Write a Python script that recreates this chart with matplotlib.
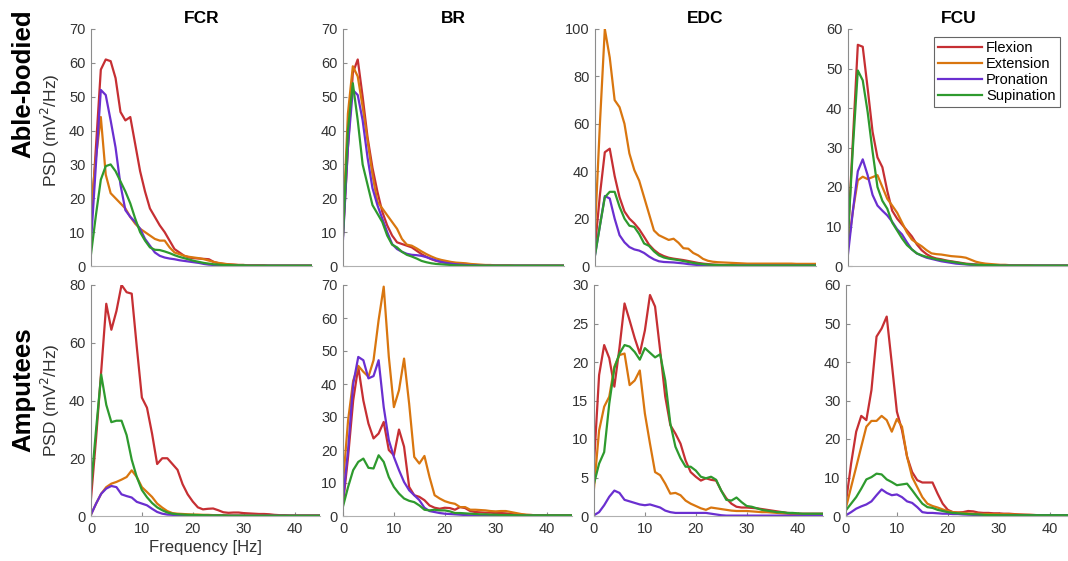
import matplotlib
matplotlib.use("Agg")
import matplotlib.pyplot as plt
import numpy as np

plt.rcParams['font.family'] = ['Liberation Sans', 'DejaVu Sans']

W, H = 1068, 561

muscles = ["FCR", "BR", "EDC", "FCU"]
movements = ["Flexion", "Extension", "Pronation", "Supination"]
colors = ["#C62F33", "#D9760F", "#6A2FD0", "#2E9A2E"]
row_names = ["Able-bodied", "Amputees"]

# PSD values, 1 Hz bins starting at 0 Hz
able_fcr = [
    [12, 35, 58, 61, 60.5, 55.5, 45.5, 43, 44, 36, 28, 22, 17, 14.5, 12, 10, 7.5, 5, 4, 3, 2.5, 2.3, 2.2, 2.1, 2, 1.2, 0.8, 0.6, 0.5, 0.4, 0.3, 0.3, 0.2, 0.2, 0.2, 0.2, 0.1, 0.1, 0.1, 0.1, 0.1, 0.1, 0.1, 0.1, 0.1, 0.1],
    [17, 32, 44, 27, 21.5, 20, 18.5, 17, 14.5, 12.5, 11, 10, 9, 8, 7.5, 7.5, 5.5, 4, 3.5, 3, 2.7, 2.5, 2.3, 2, 1.6, 1.2, 0.9, 0.7, 0.5, 0.4, 0.3, 0.3, 0.2, 0.2, 0.2, 0.2, 0.1, 0.1, 0.1, 0.1, 0.1, 0.1, 0.1, 0.1, 0.1, 0.1],
    [7, 30, 52, 50.5, 43, 35, 24, 16.5, 14.5, 13, 11, 8, 6, 4, 3, 2.5, 2.2, 2, 1.7, 1.5, 1.3, 1.1, 0.9, 0.6, 0.4, 0.3, 0.2, 0.2, 0.1, 0.1, 0.1, 0.1, 0.1, 0.1, 0.1, 0.1, 0.1, 0.1, 0.1, 0.1, 0.1, 0.1, 0.1, 0.1, 0.1, 0.1],
    [3.5, 15, 25.5, 29.5, 30, 28, 25, 22, 18.5, 14, 10, 7.5, 5.5, 4.8, 4.7, 4.3, 3.8, 3.2, 2.7, 2.3, 1.9, 1.5, 1.2, 0.9, 0.7, 0.5, 0.4, 0.3, 0.3, 0.2, 0.2, 0.2, 0.1, 0.1, 0.1, 0.1, 0.1, 0.1, 0.1, 0.1, 0.1, 0.1, 0.1, 0.1, 0.1, 0.1],
]
able_br = [
    [9, 35, 57, 61, 50, 38, 29, 22, 16, 12, 9, 7, 6.5, 6, 5.5, 4.5, 3.5, 2.7, 2, 1.5, 1.2, 1, 0.8, 0.6, 0.5, 0.4, 0.3, 0.3, 0.2, 0.2, 0.2, 0.1, 0.1, 0.1, 0.1, 0.1, 0.1, 0.1, 0.1, 0.1, 0.1, 0.1, 0.1, 0.1, 0.1, 0.1],
    [12, 45, 59, 56, 47, 37, 27, 19, 17, 15, 13, 11, 8, 6.3, 6, 5.2, 4.3, 3.5, 2.8, 2.2, 1.8, 1.5, 1.2, 1, 0.9, 0.8, 0.6, 0.5, 0.4, 0.3, 0.3, 0.2, 0.2, 0.2, 0.2, 0.1, 0.1, 0.1, 0.1, 0.1, 0.1, 0.1, 0.1, 0.1, 0.1, 0.1],
    [8, 35, 52, 50.5, 43, 32, 23, 18, 14, 10, 6.5, 5, 4.2, 3.6, 3.3, 3.2, 3, 2.6, 2.1, 1.6, 1.2, 0.9, 0.7, 0.5, 0.4, 0.3, 0.2, 0.2, 0.1, 0.1, 0.1, 0.1, 0.1, 0.1, 0.1, 0.1, 0.1, 0.1, 0.1, 0.1, 0.1, 0.1, 0.1, 0.1, 0.1, 0.1],
    [9, 40, 54, 43, 30, 24, 18, 15.5, 13, 9, 6.3, 5.5, 4.2, 3.3, 2.8, 2.2, 1.5, 1.1, 0.8, 0.6, 0.5, 0.4, 0.3, 0.2, 0.2, 0.1, 0.1, 0.1, 0.1, 0.1, 0.1, 0.1, 0.1, 0.1, 0.1, 0.1, 0.1, 0.1, 0.1, 0.1, 0.1, 0.1, 0.1, 0.1, 0.1, 0.1],
]
able_edc = [
    [8, 30, 48, 49.5, 38, 29, 23, 20, 18, 15.5, 12.3, 9, 6.8, 5.2, 4.2, 3.5, 3.1, 2.8, 2.5, 2.1, 1.7, 1.3, 1, 0.8, 0.6, 0.5, 0.4, 0.3, 0.3, 0.2, 0.2, 0.2, 0.2, 0.2, 0.2, 0.2, 0.2, 0.2, 0.2, 0.2, 0.2, 0.2, 0.2, 0.2, 0.2, 0.2],
    [15, 60, 100, 88, 70, 67, 60, 47.5, 40.5, 36, 29, 22, 15, 13, 12, 11, 11.5, 9.8, 7.5, 7.3, 5.5, 4.5, 3, 2.2, 1.8, 1.6, 1.5, 1.4, 1.3, 1.2, 1.1, 1, 1, 1, 1, 1, 1, 1, 1, 1, 1, 0.9, 0.9, 0.9, 0.9, 0.9],
    [4.5, 17, 29.5, 28.5, 20, 13, 10, 8, 7, 6.5, 5.5, 4, 2.8, 2, 1.7, 1.6, 1.5, 1.3, 1.1, 0.8, 0.6, 0.4, 0.3, 0.3, 0.2, 0.2, 0.2, 0.2, 0.2, 0.2, 0.2, 0.2, 0.2, 0.2, 0.2, 0.2, 0.2, 0.2, 0.2, 0.2, 0.2, 0.2, 0.2, 0.2, 0.2, 0.2],
    [4.5, 17, 29, 31.3, 31.3, 25, 20, 17, 16.5, 13.5, 9.5, 8.5, 6.2, 4.5, 3.6, 3.1, 2.8, 2.5, 2.1, 1.7, 1.3, 1, 0.8, 0.6, 0.5, 0.4, 0.3, 0.3, 0.3, 0.2, 0.2, 0.2, 0.2, 0.2, 0.2, 0.2, 0.2, 0.2, 0.2, 0.2, 0.2, 0.2, 0.2, 0.2, 0.2, 0.2],
]
able_fcu = [
    [7.5, 32, 56, 55.5, 45, 34, 27.5, 25, 19, 14, 12, 10.5, 9, 7.5, 5.5, 4, 3, 2.3, 1.9, 1.7, 1.4, 1.2, 1, 0.8, 0.6, 0.5, 0.4, 0.3, 0.3, 0.2, 0.2, 0.2, 0.2, 0.2, 0.1, 0.1, 0.1, 0.1, 0.1, 0.1, 0.1, 0.1, 0.1, 0.1, 0.1, 0.1],
    [4.8, 14, 21.7, 22.6, 22, 22.5, 23, 20, 17, 15.3, 13.5, 11, 8.5, 6.7, 5.8, 5, 4, 3.2, 3, 2.9, 2.7, 2.5, 2.4, 2.3, 2.1, 1.6, 1.1, 0.8, 0.6, 0.5, 0.4, 0.3, 0.3, 0.2, 0.2, 0.2, 0.2, 0.2, 0.1, 0.1, 0.1, 0.1, 0.1, 0.1, 0.1, 0.1],
    [3, 14, 24, 27, 23, 18, 15.3, 14, 12.8, 11.2, 9.3, 8, 6, 4.2, 3.2, 2.6, 2.1, 1.8, 1.5, 1.2, 1, 0.8, 0.6, 0.5, 0.4, 0.3, 0.3, 0.2, 0.2, 0.2, 0.1, 0.1, 0.1, 0.1, 0.1, 0.1, 0.1, 0.1, 0.1, 0.1, 0.1, 0.1, 0.1, 0.1, 0.1, 0.1],
    [7.5, 30, 49.5, 47, 39, 29, 20, 16.5, 14.5, 11, 9, 7, 5.3, 4.2, 3.2, 2.7, 2.3, 2, 1.7, 1.5, 1.3, 1.1, 0.9, 0.7, 0.5, 0.4, 0.3, 0.3, 0.2, 0.2, 0.2, 0.1, 0.1, 0.1, 0.1, 0.1, 0.1, 0.1, 0.1, 0.1, 0.1, 0.1, 0.1, 0.1, 0.1, 0.1],
]

amp_fcr = [
    [6, 27, 50, 73.5, 64.5, 71, 80, 77.5, 77, 58.5, 41, 37.5, 28.5, 18, 20, 20, 18, 16, 11, 7.5, 5, 3, 2.3, 2.5, 2.6, 2, 1.3, 1.1, 1.2, 1.2, 1, 0.9, 0.8, 0.7, 0.7, 0.6, 0.4, 0.3, 0.3, 0.2, 0.2, 0.2, 0.2, 0.2, 0.2, 0.2],
    [0.5, 4.3, 7.7, 10, 11.2, 11.8, 12.6, 13.5, 15.8, 13.5, 10, 8.3, 6.6, 4.3, 2.9, 1.7, 1, 0.8, 0.7, 0.6, 0.5, 0.5, 0.4, 0.4, 0.3, 0.3, 0.3, 0.2, 0.2, 0.2, 0.2, 0.2, 0.2, 0.2, 0.1, 0.1, 0.1, 0.1, 0.1, 0.1, 0.1, 0.1, 0.1, 0.1, 0.1, 0.1],
    [0.5, 4.3, 7.7, 9.5, 10.4, 10, 7.5, 6.9, 6.4, 4.9, 4.3, 3.7, 2.5, 1.4, 0.8, 0.5, 0.4, 0.3, 0.3, 0.2, 0.2, 0.2, 0.1, 0.1, 0.1, 0.1, 0.1, 0.1, 0.1, 0.1, 0.1, 0.1, 0.1, 0.1, 0.1, 0.1, 0.1, 0.1, 0.1, 0.1, 0.1, 0.1, 0.1, 0.1, 0.1, 0.1],
    [10, 30, 49, 38.5, 32.5, 33, 33, 28, 19.5, 13.5, 9, 6.5, 4.5, 3, 2, 1.2, 0.8, 0.6, 0.5, 0.4, 0.4, 0.3, 0.3, 0.2, 0.2, 0.2, 0.2, 0.1, 0.1, 0.1, 0.1, 0.1, 0.1, 0.1, 0.1, 0.1, 0.1, 0.1, 0.1, 0.1, 0.1, 0.1, 0.1, 0.1, 0.1, 0.1],
]
amp_br = [
    [3.7, 18, 35, 45.2, 35, 28, 23.5, 25, 28.5, 20, 18.4, 26.2, 21, 8.8, 6.3, 5.8, 4.8, 3.2, 2.5, 2.2, 2.5, 2.4, 1.9, 2.7, 2.4, 1.5, 1.2, 1.1, 1, 1, 0.9, 0.9, 0.8, 0.6, 0.5, 0.4, 0.3, 0.3, 0.2, 0.2, 0.2, 0.2, 0.2, 0.2, 0.2, 0.2],
    [9.8, 29, 41, 45.5, 43.7, 42.2, 47.2, 59.4, 69.5, 48.3, 33, 38.1, 47.7, 34, 17.9, 15.9, 18.2, 11.8, 6.3, 5.3, 4.5, 4, 3.7, 2.7, 2.7, 1.9, 1.9, 1.8, 1.7, 1.5, 1.4, 1.5, 1.5, 1.2, 0.9, 0.6, 0.4, 0.3, 0.2, 0.2, 0.2, 0.2, 0.2, 0.2, 0.2, 0.2],
    [4.8, 20, 40, 48.2, 47.2, 41.7, 42.4, 47.2, 33, 23, 17.9, 13.9, 10.3, 7.8, 6.3, 4.8, 2.5, 1.5, 1.2, 0.9, 0.7, 0.6, 0.5, 0.4, 0.3, 0.2, 0.1, 0.1, 0.1, 0.1, 0.1, 0.1, 0.1, 0.1, 0.1, 0.1, 0.1, 0.1, 0.1, 0.1, 0.1, 0.1, 0.1, 0.1, 0.1, 0.1],
    [2.9, 8.8, 13.9, 16.4, 17.4, 14.6, 14.4, 18.4, 16.4, 11.8, 8.8, 6.8, 5.3, 4.6, 4.2, 3.2, 1.9, 1.7, 1.9, 1.7, 1.7, 1.4, 0.9, 0.9, 0.8, 0.7, 0.6, 0.5, 0.5, 0.4, 0.4, 0.3, 0.3, 0.3, 0.2, 0.2, 0.2, 0.2, 0.2, 0.2, 0.2, 0.2, 0.2, 0.2, 0.2, 0.2],
]
amp_edc = [
    [6.8, 18.3, 22.2, 20.5, 16.8, 21.8, 27.6, 25.4, 23.1, 21.1, 24.1, 28.7, 27.2, 21.5, 15.5, 11.8, 10.7, 9.4, 7.2, 5.7, 5.1, 4.6, 4.9, 4.7, 4.6, 3.3, 2.3, 1.6, 1.2, 1.1, 1.1, 1.05, 1, 0.9, 0.8, 0.7, 0.6, 0.5, 0.4, 0.35, 0.3, 0.3, 0.3, 0.3, 0.3, 0.3],
    [3.6, 11.1, 14.2, 15.5, 19.4, 20.9, 21.1, 17, 17.6, 18.9, 13.3, 9.4, 5.7, 5.3, 4.2, 2.9, 3, 2.7, 2, 1.6, 1.3, 1, 0.8, 1.1, 1, 0.9, 0.8, 0.7, 0.65, 0.65, 0.65, 0.6, 0.55, 0.5, 0.5, 0.45, 0.4, 0.35, 0.3, 0.25, 0.2, 0.2, 0.2, 0.2, 0.2, 0.2],
    [0.1, 0.5, 1.4, 2.5, 3.3, 3, 2.1, 1.9, 1.7, 1.5, 1.4, 1.5, 1.3, 1.1, 0.7, 0.5, 0.4, 0.4, 0.4, 0.4, 0.4, 0.4, 0.4, 0.3, 0.2, 0.1, 0.05, 0.05, 0.05, 0.05, 0.05, 0.05, 0.05, 0.05, 0.05, 0.05, 0.05, 0.05, 0.05, 0.05, 0.05, 0.05, 0.05, 0.05, 0.05, 0.05],
    [4.2, 6.8, 8.3, 14.6, 19.2, 21.1, 22.2, 22, 21.3, 20.3, 21.8, 21.2, 20.6, 21, 17.6, 12, 9, 7.5, 6.4, 6.4, 5.9, 5.1, 4.9, 5.1, 4.7, 3.3, 2.1, 2, 2.4, 1.8, 1.3, 1.2, 1, 0.8, 0.7, 0.6, 0.5, 0.5, 0.4, 0.4, 0.35, 0.3, 0.3, 0.3, 0.3, 0.3],
]
amp_fcu = [
    [3.6, 13.6, 21.9, 26, 24.9, 32.7, 46.6, 48.7, 51.8, 39.6, 27.1, 22.3, 15.4, 11.4, 9.3, 8.7, 8.7, 8.7, 5.8, 3.2, 1.6, 1, 0.9, 1, 1.3, 1.2, 0.9, 0.8, 0.8, 0.7, 0.7, 0.6, 0.6, 0.5, 0.4, 0.35, 0.3, 0.25, 0.2, 0.2, 0.2, 0.2, 0.2, 0.2, 0.2, 0.2],
    [2.2, 7.5, 12.7, 18, 23.2, 24.7, 24.7, 26, 24.9, 21.9, 25.2, 23.2, 15.4, 10.1, 7.5, 4.9, 3.2, 2.6, 2.2, 1.7, 1.3, 1, 0.9, 0.8, 0.7, 0.6, 0.6, 0.5, 0.5, 0.45, 0.45, 0.45, 0.45, 0.4, 0.35, 0.3, 0.3, 0.25, 0.2, 0.2, 0.2, 0.2, 0.2, 0.2, 0.2, 0.2],
    [0.2, 1, 1.9, 2.5, 3, 3.8, 5.4, 6.9, 6, 5.4, 5.6, 4.9, 3.8, 3.4, 2.3, 1, 0.8, 0.8, 0.7, 0.6, 0.6, 0.5, 0.5, 0.4, 0.35, 0.3, 0.3, 0.25, 0.2, 0.2, 0.2, 0.2, 0.2, 0.2, 0.2, 0.2, 0.2, 0.2, 0.2, 0.2, 0.2, 0.2, 0.2, 0.2, 0.2, 0.2],
    [1.5, 3.2, 4.9, 7.1, 9.5, 10.1, 11, 10.8, 9.5, 8.8, 8, 8.2, 8.4, 6.7, 4.9, 3.2, 2.3, 2.1, 1.6, 1.3, 1, 0.8, 0.7, 0.6, 0.5, 0.45, 0.4, 0.3, 0.25, 0.25, 0.2, 0.2, 0.2, 0.2, 0.2, 0.2, 0.2, 0.2, 0.2, 0.2, 0.2, 0.2, 0.2, 0.2, 0.2, 0.2],
]

data = [[able_fcr, able_br, able_edc, able_fcu],
        [amp_fcr, amp_br, amp_edc, amp_fcu]]

y_max = [[70, 70, 100, 60], [80, 70, 30, 60]]
y_step = [[10, 10, 20, 10], [20, 10, 5, 10]]
x_ticks = [0, 10, 20, 30, 40]

# pixel boxes of each axes: left edges per row, widths, top/bottom per row
col_left = [[91, 343, 595, 848], [91, 343, 594, 846]]
col_width = [221, 229]
row_top = [29, 285]
row_bottom = [266, 516]
ylabel_y = [0.574, 0.5]

fig = plt.figure(figsize=(W / 100, H / 100), dpi=100)

spine_col = "#8c8c8c"
tick_col = "#333333"

for r in range(2):
    for c in range(4):
        l = col_left[r][c]
        t, b = row_top[r], row_bottom[r]
        ax = fig.add_axes([l / W, 1 - b / H, col_width[r] / W, (b - t) / H])
        for k, series in enumerate(data[r][c]):
            freq = np.arange(len(series))
            ax.plot(freq, series, color=colors[k], lw=1.6, label=movements[k])
        ax.set_xlim(0, 45)
        ax.set_ylim(0, y_max[r][c])
        ax.set_yticks(np.arange(0, y_max[r][c] + 1, y_step[r][c]))
        for s in ("top", "right"):
            ax.spines[s].set_visible(False)
        ax.spines["left"].set_color(spine_col)
        ax.spines["bottom"].set_color("#b0b0b0")
        ax.tick_params(direction="in", length=3, width=0.8, color=spine_col,
                       labelcolor=tick_col, labelsize=10.5, pad=4)
        if r == 0:
            ax.set_xticks([])
            ax.set_title(muscles[c], fontsize=12.5, fontweight="bold", pad=4)
        else:
            ax.set_xticks(x_ticks)
        if c == 0:
            ax.set_ylabel("PSD (mV$^2$/Hz)", fontsize=12.5, color=tick_col)
            ax.yaxis.set_label_coords(-29 / col_width[r], ylabel_y[r])
            if r == 1:
                ax.set_xlabel("Frequency [Hz]", fontsize=12, color=tick_col, labelpad=3)
        if r == 0 and c == 3:
            leg = ax.legend(loc="upper right", bbox_to_anchor=(1 - 9 / col_width[r], 1 - 8 / (b - t)),
                            fontsize=10.5, frameon=True, fancybox=False, handlelength=3.0,
                            handletextpad=0.3, borderpad=0.3, labelspacing=0.12,
                            borderaxespad=0.0)
            leg.get_frame().set_edgecolor("#404040")
            leg.get_frame().set_linewidth(0.8)

fig.text(23 / W, 1 - 84 / H, row_names[0], rotation=90, ha="center", va="center",
         fontsize=18.5, fontweight="bold")
fig.text(23 / W, 1 - 390 / H, row_names[1], rotation=90, ha="center", va="center",
         fontsize=18.5, fontweight="bold")

fig.savefig("out.png", dpi=100)
